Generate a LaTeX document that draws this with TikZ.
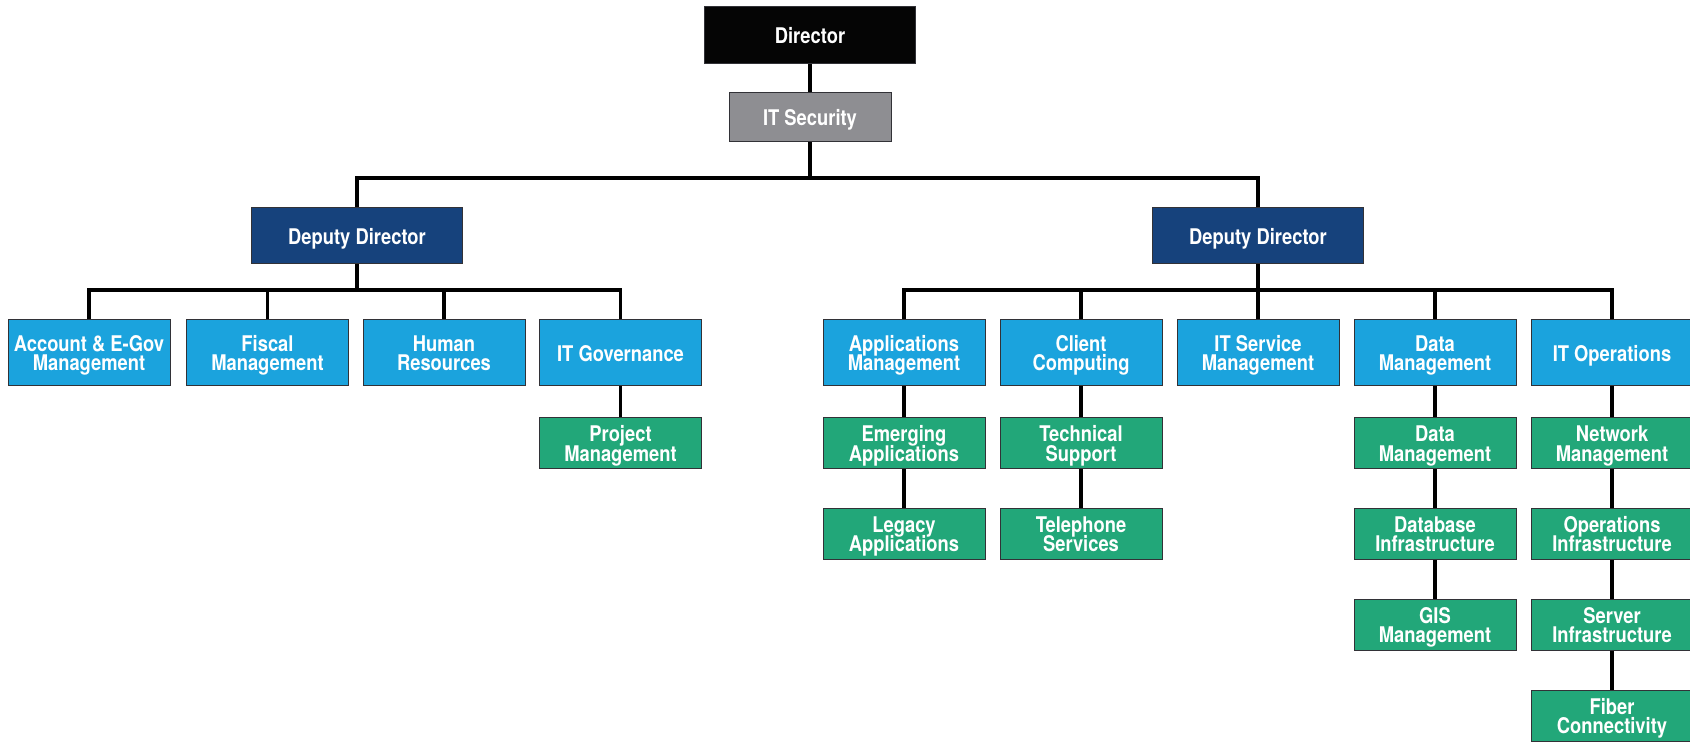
\documentclass[tikz,border=0pt]{standalone}
\usepackage{fontspec}
\newfontfamily\orgfont[FakeStretch=0.85]{TeX Gyre Heros}
\newcommand\orgtext{\orgfont\bfseries\fontsize{10.8}{9.8}\selectfont\lineskiplimit=-50pt\relax}

\definecolor{topblack}{RGB}{5,5,5}
\definecolor{secgray}{RGB}{142,142,146}
\definecolor{navy}{RGB}{22,66,124}
\definecolor{cyanbox}{RGB}{27,163,221}
\definecolor{greenbox}{RGB}{34,167,121}
\definecolor{edgegray}{RGB}{50,50,55}

\begin{document}
\begin{tikzpicture}[x=0.5pt, y=-0.5pt,
    unit/.style={rectangle, draw=edgegray, line width=0.5pt, inner sep=0pt, text=white,
      align=center, minimum width=81pt, text depth=0pt, font=\orgtext},
    head/.style={unit, fill=topblack, minimum width=105.5pt, minimum height=28.5pt},
    sec/.style={unit, fill=secgray, minimum height=24.5pt},
    deputy/.style={unit, fill=navy, minimum width=105.5pt, minimum height=28pt},
    office/.style={unit, fill=cyanbox, minimum height=33pt},
    team/.style={unit, fill=greenbox, minimum height=25.5pt},
    link/.style={line width=1.9pt, draw=black}]
    \useasboundingbox (0,0) rectangle (1690,742);

    \node[head] (dir) at (810, 35.5) {Director};
    \node[sec] (sec) at (810, 117.5) {IT Security};
    \node[deputy] (depl) at (357, 236) {Deputy Director};
    \node[deputy] (depr) at (1258, 236) {Deputy Director};

    \node[office] (acct) at (89, 353) {Account \& E-Gov\\Management};
    \node[office] (fisc) at (267.5, 353) {Fiscal\\Management};
    \node[office] (hr) at (444, 353) {Human\\Resources};
    \node[office] (gov) at (620.5, 353) {IT Governance};

    \node[office] (apps) at (904, 353) {Applications\\Management};
    \node[office] (client) at (1081, 353) {Client\\Computing};
    \node[office] (itsm) at (1258, 353) {IT Service\\Management};
    \node[office] (data) at (1435, 353) {Data\\Management};
    \node[office] (ops) at (1612, 353) {IT Operations};

    \node[team] (proj) at (620.5, 443.5) {Project\\Management};
    \node[team] (emerg) at (904, 443.5) {Emerging\\Applications};
    \node[team] (legacy) at (904, 534) {Legacy\\Applications};
    \node[team] (tech) at (1081, 443.5) {Technical\\Support};
    \node[team] (tel) at (1081, 534) {Telephone\\Services};
    \node[team] (datam) at (1435, 443.5) {Data\\Management};
    \node[team] (dbinf) at (1435, 534) {Database\\Infrastructure};
    \node[team] (gis) at (1435, 625) {GIS\\Management};
    \node[team] (net) at (1612, 443.5) {Network\\Management};
    \node[team] (opsinf) at (1612, 534) {Operations\\Infrastructure};
    \node[team] (srv) at (1612, 625) {Server\\Infrastructure};
    \node[team] (fiber) at (1612, 716) {Fiber\\Connectivity};

    \coordinate (j0) at (810, 178);
    \coordinate (jl) at (357, 290);
    \coordinate (jr) at (1258, 290);

    \draw[link] (dir) -- (sec);
    \draw[link] (sec) -- (j0);
    \draw[link] (j0) -| (depl);
    \draw[link] (j0) -| (depr);
    \draw[link] (depl) -- (jl);
    \draw[link] (depr) -- (jr);
    \foreach \n in {acct, fisc, hr, gov}
        \draw[link] (jl) -| (\n);
    \foreach \n in {apps, client, itsm, data, ops}
        \draw[link] (jr) -| (\n);

    \draw[link] (gov) -- (proj);
    \draw[link] (apps) -- (emerg);
    \draw[link] (emerg) -- (legacy);
    \draw[link] (client) -- (tech);
    \draw[link] (tech) -- (tel);
    \draw[link] (data) -- (datam);
    \draw[link] (datam) -- (dbinf);
    \draw[link] (dbinf) -- (gis);
    \draw[link] (ops) -- (net);
    \draw[link] (net) -- (opsinf);
    \draw[link] (opsinf) -- (srv);
    \draw[link] (srv) -- (fiber);
\end{tikzpicture}
\end{document}
